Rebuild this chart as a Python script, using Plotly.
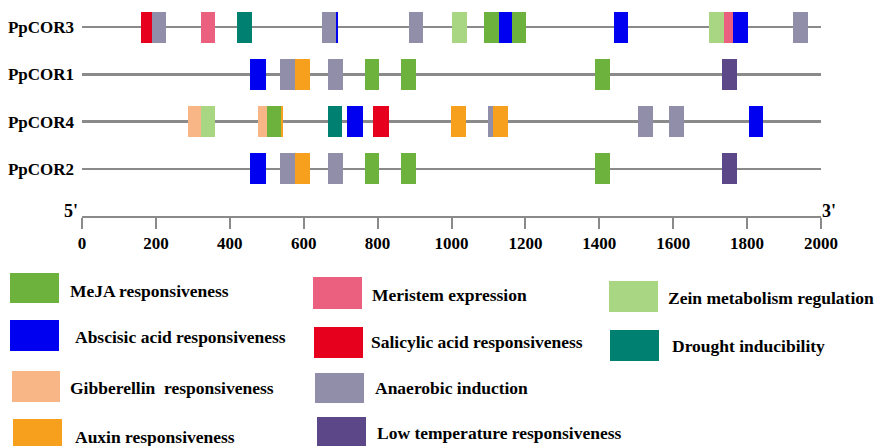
import plotly.graph_objects as go

# ---------------- data ----------------
GENES = ["PpCOR3", "PpCOR1", "PpCOR4", "PpCOR2"]
GENE_LENGTH = [2000, 2000, 2000, 2000]

ELEMENT_TYPES = [
    "MeJA responsiveness", "Abscisic acid responsiveness", "Gibberellin  responsiveness",
    "Auxin responsiveness", "Meristem expression", "Salicylic acid responsiveness",
    "Anaerobic induction", "Low temperature responsiveness", "Zein metabolism regulation",
    "Drought inducibility",
]
ELEMENT_COLORS = [
    "#6cb23c", "#0000f0", "#f8b687", "#f7a01e", "#ea607e",
    "#e6001e", "#918eaa", "#5c4888", "#a8d682", "#008070",
]

COR3_TYPE = ["Salicylic acid responsiveness", "Anaerobic induction", "Meristem expression",
             "Drought inducibility", "Anaerobic induction", "Abscisic acid responsiveness",
             "Anaerobic induction", "Zein metabolism regulation", "MeJA responsiveness",
             "Abscisic acid responsiveness", "MeJA responsiveness", "Abscisic acid responsiveness",
             "Zein metabolism regulation", "Meristem expression", "Abscisic acid responsiveness",
             "Anaerobic induction"]
COR3_START = [160, 189, 322, 419, 649, 688, 885, 1001, 1088, 1129, 1164, 1440, 1697, 1737, 1762, 1924]
COR3_END = [189, 227, 360, 460, 688, 693, 923, 1042, 1129, 1164, 1202, 1478, 1737, 1762, 1802, 1965]

COR1_TYPE = ["Abscisic acid responsiveness", "Anaerobic induction", "Auxin responsiveness",
             "Anaerobic induction", "MeJA responsiveness", "MeJA responsiveness",
             "MeJA responsiveness", "Low temperature responsiveness"]
COR1_START = [455, 536, 576, 666, 766, 863, 1388, 1732]
COR1_END = [498, 576, 617, 706, 804, 904, 1429, 1773]

COR4_TYPE = ["Gibberellin  responsiveness", "Zein metabolism regulation", "Gibberellin  responsiveness",
             "MeJA responsiveness", "Auxin responsiveness", "Drought inducibility",
             "Abscisic acid responsiveness", "Salicylic acid responsiveness", "Auxin responsiveness",
             "Anaerobic induction", "Auxin responsiveness", "Anaerobic induction",
             "Anaerobic induction", "Abscisic acid responsiveness"]
COR4_START = [287, 322, 476, 501, 541, 666, 717, 788, 999, 1099, 1112, 1505, 1589, 1805]
COR4_END = [322, 360, 501, 541, 545, 704, 760, 831, 1039, 1112, 1153, 1545, 1629, 1843]

COR2_TYPE = list(COR1_TYPE)
COR2_START = [455, 536, 576, 666, 766, 863, 1388, 1732]
COR2_END = [498, 576, 617, 706, 804, 904, 1429, 1773]

AXIS_TICKS = [0, 200, 400, 600, 800, 1000, 1200, 1400, 1600, 1800, 2000]

# ---------------- figure ----------------
W, H = 874, 446
SERIF = "Liberation Serif, Times New Roman, serif"
LINE_GREY = "#8a8a8a"

fig = go.Figure()

# backbone lines (thin bars from 0 to gene length)
fig.add_trace(go.Bar(
    orientation="h", y=GENES, x=GENE_LENGTH, base=[0] * len(GENES),
    width=0.055, marker=dict(color=LINE_GREY, line=dict(width=0)),
    showlegend=False, hoverinfo="skip",
))

rows = [
    ("PpCOR3", COR3_TYPE, COR3_START, COR3_END),
    ("PpCOR1", COR1_TYPE, COR1_START, COR1_END),
    ("PpCOR4", COR4_TYPE, COR4_START, COR4_END),
    ("PpCOR2", COR2_TYPE, COR2_START, COR2_END),
]

for etype, color in zip(ELEMENT_TYPES, ELEMENT_COLORS):
    ys, bases, widths = [], [], []
    for gene, types, starts, ends in rows:
        for t, s, e in zip(types, starts, ends):
            if t == etype:
                ys.append(gene)
                bases.append(s)
                widths.append(e - s)
    if ys:
        fig.add_trace(go.Bar(
            orientation="h", y=ys, x=widths, base=bases, width=0.655,
            marker=dict(color=color, line=dict(width=0)),
            name=etype, showlegend=False,
        ))

# pixel helpers for layout placement
def px_x(p):
    return p / W

def px_y(p):
    return 1 - p / H

row_px = 47.33
top_idx = -27 / row_px
bot_idx = (200 - 27) / row_px

fig.update_layout(
    width=W, height=H,
    margin=dict(l=0, r=0, t=0, b=0, autoexpand=False),
    paper_bgcolor="white", plot_bgcolor="white",
    barmode="overlay", bargap=0,
    xaxis=dict(
        domain=[px_x(82), px_x(821)], range=[0, 2000],
        anchor="free", position=px_y(217), automargin=False,
        showline=True, linecolor=LINE_GREY, linewidth=2,
        ticks="outside", ticklen=11, tickwidth=1.5, tickcolor=LINE_GREY,
        tickvals=AXIS_TICKS, ticktext=[str(v) for v in AXIS_TICKS],
        tickfont=dict(family=SERIF, size=17, color="black", weight="bold"),
        showgrid=False, zeroline=False,
    ),
    yaxis=dict(
        domain=[px_y(200), 1], type="category", automargin=False,
        categoryorder="array", categoryarray=GENES,
        range=[bot_idx, top_idx],
        showline=False, ticks="", ticklabelstandoff=7,
        tickfont=dict(family=SERIF, size=17, color="black", weight="bold"),
        showgrid=False, zeroline=False,
    ),
)

annotations = [
    dict(text="5'", x=px_x(71), y=px_y(211), xref="paper", yref="paper",
         xanchor="center", yanchor="middle",
         showarrow=False, font=dict(family=SERIF, size=18, color="black", weight="bold")),
    dict(text="3'", x=px_x(829), y=px_y(211), xref="paper", yref="paper",
         xanchor="center", yanchor="middle",
         showarrow=False, font=dict(family=SERIF, size=18, color="black", weight="bold")),
]

# custom legend: 3 columns of big swatches
LEGEND_SWATCH = [  # (x0, y0, x1, y1) in pixels
    (10, 273, 59, 303), (10, 320, 59, 351), (12, 371, 60, 402), (13, 419, 62, 447),
    (313, 277, 362, 309), (314, 327, 363, 358), (315, 373, 364, 403), (317, 417, 366, 446),
    (609, 281, 658, 312), (610, 330, 659, 361),
]
LEGEND_TEXT = [  # (x, y) in pixels
    (68, 291), (73, 337), (68, 388), (73, 437),
    (370, 295), (369, 342), (373, 388), (375, 433),
    (666, 298), (670, 346),
]

shapes = []
for i, (sw, tp) in enumerate(zip(LEGEND_SWATCH, LEGEND_TEXT)):
    x0, y0, x1, y1 = sw
    shapes.append(dict(type="rect", xref="paper", yref="paper",
                       x0=px_x(x0), x1=px_x(x1), y0=px_y(y1), y1=px_y(y0),
                       fillcolor=ELEMENT_COLORS[i], line=dict(width=0)))
    annotations.append(dict(text=ELEMENT_TYPES[i].replace("  ", "&nbsp; "),
                            x=px_x(tp[0]), y=px_y(tp[1]),
                            xref="paper", yref="paper", xanchor="left", yanchor="middle",
                            showarrow=False,
                            font=dict(family=SERIF, size=17.5, color="black", weight="bold")))

fig.update_layout(shapes=shapes, annotations=annotations)

fig.write_html(
    "out.html",
    config={"displayModeBar": False},
    post_script="document.body.style.margin='0px';document.body.style.overflow='hidden';",
)
